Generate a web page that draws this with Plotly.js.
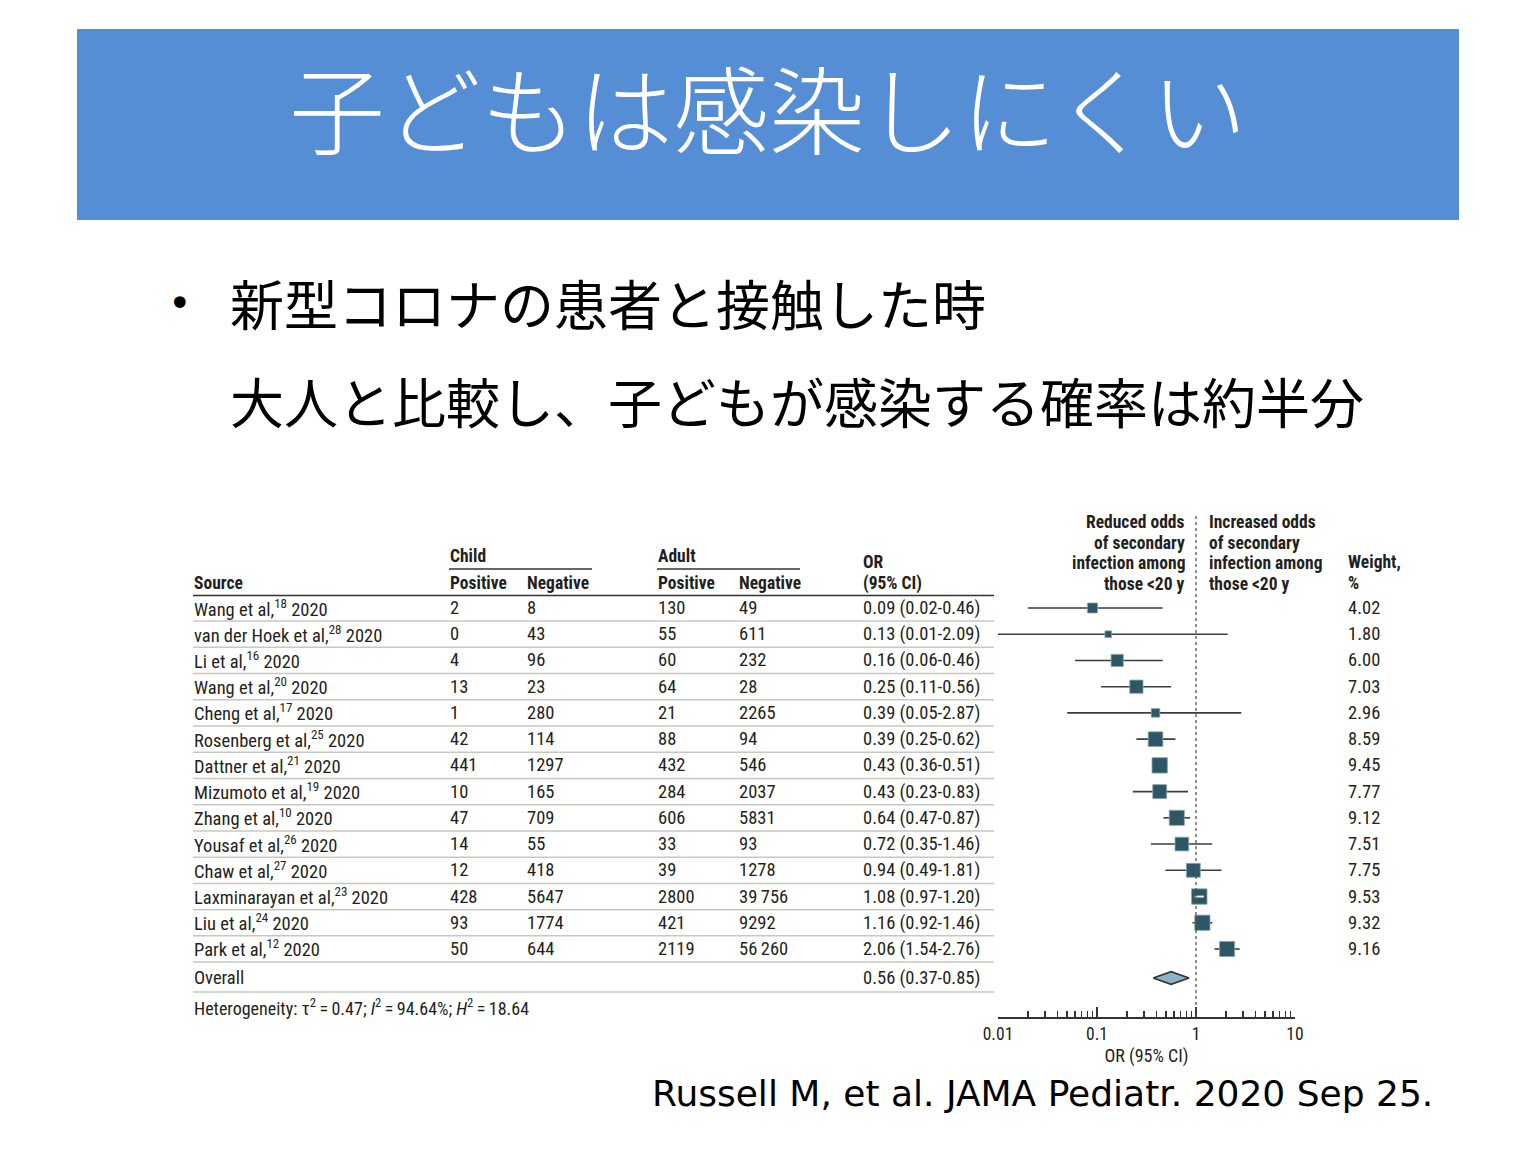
<!DOCTYPE html>
<html>
<head>
<meta charset="utf-8">
<script src="https://cdn.plot.ly/plotly-3.0.1.min.js"></script>
<style>html,body{margin:0;padding:0;background:#fff;}#chart{width:1536px;height:1152px;}</style>
</head>
<body>
<div id="chart"></div>
<script>
// ---- Data ----
const authors = ["Wang", "van der Hoek", "Li", "Wang", "Cheng", "Rosenberg", "Dattner", "Mizumoto", "Zhang", "Yousaf", "Chaw", "Laxminarayan", "Liu", "Park"];
const refs = [18, 28, 16, 20, 17, 25, 21, 19, 10, 26, 27, 23, 24, 12];
const years = [2020, 2020, 2020, 2020, 2020, 2020, 2020, 2020, 2020, 2020, 2020, 2020, 2020, 2020];
const childPos = [2, 0, 4, 13, 1, 42, 441, 10, 47, 14, 12, 428, 93, 50];
const childNeg = [8, 43, 96, 23, 280, 114, 1297, 165, 709, 55, 418, 5647, 1774, 644];
const adultPos = [130, 55, 60, 64, 21, 88, 432, 284, 606, 33, 39, 2800, 421, 2119];
const adultNeg = [49, 611, 232, 28, 2265, 94, 546, 2037, 5831, 93, 1278, 39756, 9292, 56260];
const oddsRatio = [0.09, 0.13, 0.16, 0.25, 0.39, 0.39, 0.43, 0.43, 0.64, 0.72, 0.94, 1.08, 1.16, 2.06];
const ciLow = [0.02, 0.01, 0.06, 0.11, 0.05, 0.25, 0.36, 0.23, 0.47, 0.35, 0.49, 0.97, 0.92, 1.54];
const ciHigh = [0.46, 2.09, 0.46, 0.56, 2.87, 0.62, 0.51, 0.83, 0.87, 1.46, 1.81, 1.20, 1.46, 2.76];
const weights = [4.02, 1.80, 6.00, 7.03, 2.96, 8.59, 9.45, 7.77, 9.12, 7.51, 7.75, 9.53, 9.32, 9.16];
const overallOR = 0.56, overallLow = 0.37, overallHigh = 0.85;
const heterogeneity = {tau2: 0.47, i2: 94.64, h2: 18.64};
const tickValues = [0.01, 0.1, 1, 10];
const tickLabels = ["0.01", "0.1", "1", "10"];
const minorTicks = [0.02,0.03,0.04,0.05,0.06,0.07,0.08,0.09,0.2,0.3,0.4,0.5,0.6,0.7,0.8,0.9,2,3,4,5,6,7,8,9];

// ---- Layout helpers ----
const W = 1536, H = 1152;
const px = x => x / W;
const py = y => 1 - y / H;
const ROW0 = 608, ROWH = 26.23;
const rowOf = y => (y - ROW0) / ROWH;
const overallRow = rowOf(978);
const AX_L = 998, AX_R = 1295, PX_PER_DECADE = (AX_R - AX_L) / 3;
const TFONT = "Liberation Sans Narrow, Roboto Condensed, DejaVu Sans Condensed, sans-serif";
const TCOL = "#231f20";
const REG = 18.5, BOLD = 17.5;
const fmt = n => n >= 10000 ? String(n).replace(/(\d+)(\d{3})$/, "$1\u2009$2") : String(n);
const boxSize = w => Math.sqrt(w) * 5;

const annotations = [];
const shapes = [];
function addText(text, x, y, opts = {}) {
  annotations.push({
    text, x: px(x), y: opts.yref === 'y' ? y : py(y), xref: 'paper', yref: opts.yref || 'paper',
    xanchor: opts.xanchor || 'left', yanchor: 'middle', showarrow: false, borderpad: 0,
    font: {family: TFONT, size: opts.size || REG, color: opts.color || TCOL, weight: opts.weight || 400}
  });
}
function hline(x0, x1, y, color, width, yref) {
  shapes.push({type: 'line', xref: 'paper', yref: yref || 'paper', x0: px(x0), x1: px(x1),
    y0: yref === 'y' ? y : py(y), y1: yref === 'y' ? y : py(y), line: {color, width}});
}

// Banner
shapes.push({type: 'rect', xref: 'paper', yref: 'paper', x0: px(77), x1: px(1459), y0: py(220), y1: py(29),
  fillcolor: '#558ed5', line: {width: 0}, layer: 'below'});
annotations.push({text: "子どもは感染しにくい", x: px(768), y: py(106), xref: 'paper', yref: 'paper',
  xanchor: 'center', yanchor: 'middle', showarrow: false,
  font: {family: "Noto Sans CJK JP, sans-serif", size: 96, color: '#ffffff', weight: 300}});

// Bullet text
annotations.push({text: "•", x: px(180), y: py(303), xref: 'paper', yref: 'paper', xanchor: 'center', yanchor: 'middle',
  showarrow: false, font: {family: "DejaVu Sans, sans-serif", size: 40, color: '#000'}});
annotations.push({text: "新型コロナの患者と接触した時", x: px(228), y: py(302), xref: 'paper', yref: 'paper',
  xanchor: 'left', yanchor: 'middle', showarrow: false, font: {family: "Noto Sans CJK JP, sans-serif", size: 54, color: '#000'}});
annotations.push({text: "大人と比較し、子どもが感染する確率は約半分", x: px(228), y: py(400), xref: 'paper', yref: 'paper',
  xanchor: 'left', yanchor: 'middle', showarrow: false, font: {family: "Noto Sans CJK JP, sans-serif", size: 54, color: '#000'}});

// Citation
annotations.push({text: "Russell M, et al. JAMA Pediatr. 2020 Sep 25.", x: px(1435), y: py(1093), xref: 'paper', yref: 'paper',
  xanchor: 'right', yanchor: 'middle', showarrow: false, font: {family: "DejaVu Sans, Verdana, sans-serif", size: 36, color: '#000'}});

// Table header
const B = {weight: 700, size: BOLD};
addText("Source", 193, 583, B);
addText("Child", 449, 556, B);
addText("Positive", 449, 583, B);
addText("Negative", 526, 583, B);
addText("Adult", 657, 556, B);
addText("Positive", 657, 583, B);
addText("Negative", 738, 583, B);
addText("OR", 862, 562, B);
addText("(95% CI)", 862, 583, B);
["Reduced odds", "of secondary", "infection among", "those <20 y"].forEach((t, k) =>
  addText(t, 1186, 522 + k * 20.5, {weight: 700, size: BOLD, xanchor: 'right'}));
["Increased odds", "of secondary", "infection among", "those <20 y"].forEach((t, k) =>
  addText(t, 1208, 522 + k * 20.5, B));
addText("Weight,", 1347, 562, B);
addText("%", 1347, 583, B);
hline(449, 592, 569, '#333', 1.5);
hline(657, 800, 569, '#333', 1.5);
hline(193, 994, 595.5, '#333', 1.6);

// Table rows
authors.forEach((a, i) => {
  const R = {yref: 'y'};
  addText(`${a} et al,<sup>${refs[i]}</sup> ${years[i]}`, 193, i, R);
  addText(fmt(childPos[i]), 449, i, R);
  addText(fmt(childNeg[i]), 526, i, R);
  addText(fmt(adultPos[i]), 657, i, R);
  addText(fmt(adultNeg[i]), 738, i, R);
  addText(`${oddsRatio[i].toFixed(2)} (${ciLow[i].toFixed(2)}-${ciHigh[i].toFixed(2)})`, 862, i, R);
  addText(weights[i].toFixed(2), 1347, i, R);
  hline(193, 994, i + 0.5, '#c8c8c2', 1.5, 'y');
});
addText("Overall", 193, overallRow, {yref: 'y'});
addText(`${overallOR.toFixed(2)} (${overallLow.toFixed(2)}-${overallHigh.toFixed(2)})`, 862, overallRow, {yref: 'y'});
hline(193, 994, rowOf(992), '#c8c8c2', 1.5, 'y');
addText(`Heterogeneity: τ<sup>2</sup>\u2009=\u2009${heterogeneity.tau2.toFixed(2)}; <i>I</i><sup>2</sup>\u2009=\u2009${heterogeneity.i2.toFixed(2)}%; <i>H</i><sup>2</sup>\u2009=\u2009${heterogeneity.h2.toFixed(2)}`,
  193, 1007, {size: 18});

// Null line
shapes.push({type: 'line', xref: 'x', yref: 'paper', x0: 1, x1: 1, y0: py(1017), y1: py(514),
  line: {color: '#555', width: 1.3, dash: 'dot'}});

// CI segments (built from the data arrays)
const ciX = [], ciY = [], innerX = [], innerY = [];
oddsRatio.forEach((_, i) => {
  ciX.push(ciLow[i], ciHigh[i], null); ciY.push(i, i, null);
  const spanPx = (Math.log10(ciHigh[i]) - Math.log10(ciLow[i])) * PX_PER_DECADE;
  if (spanPx < boxSize(weights[i]) - 2) { innerX.push(ciLow[i], ciHigh[i], null); innerY.push(i, i, null); }
});

const traces = [
  {
    type: 'scatter', mode: 'lines', x: ciX, y: ciY,
    line: {color: '#3d3d3d', width: 1.6}, hoverinfo: 'skip', showlegend: false
  },
  {
    type: 'scatter', mode: 'markers', x: oddsRatio, y: authors.map((_, i) => i),
    marker: {symbol: 'square', size: weights.map(boxSize), color: '#2d5764', opacity: 1,
      line: {color: '#8aa7b0', width: 0.8}},
    hoverinfo: 'x', showlegend: false
  },
  {
    type: 'scatter', mode: 'lines', x: innerX, y: innerY,
    line: {color: '#ffffff', width: 1.8}, hoverinfo: 'skip', showlegend: false
  },
  {
    type: 'scatter', mode: 'lines', fill: 'toself', fillcolor: '#8db4c6',
    x: [overallLow, overallOR, overallHigh, overallOR, overallLow],
    y: [overallRow, overallRow - 0.24, overallRow, overallRow + 0.24, overallRow],
    line: {color: '#333', width: 1.6}, hoverinfo: 'skip', showlegend: false
  }
];

const layout = {
  width: W, height: H, margin: {l: 0, r: 0, t: 0, b: 0},
  paper_bgcolor: '#fff', plot_bgcolor: 'rgba(0,0,0,0)',
  showlegend: false,
  xaxis: {
    type: 'log', range: [-2, 1], domain: [px(AX_L), px(AX_R)],
    showgrid: false, zeroline: false, showline: true, linecolor: '#333', linewidth: 1.5,
    ticks: 'inside', ticklen: 10, tickwidth: 1.5, tickcolor: '#333',
    tickmode: 'array', tickvals: tickValues, ticktext: tickLabels,
    tickfont: {family: TFONT, size: 17.5, color: TCOL},
    minor: {tickmode: 'array', tickvals: minorTicks, ticks: 'inside', ticklen: 6, tickwidth: 1.5, tickcolor: '#333', showgrid: false},
    title: {text: "OR (95% CI)", font: {family: TFONT, size: 18, color: TCOL}, standoff: 7},
    fixedrange: true
  },
  yaxis: {
    range: [rowOf(1017), rowOf(515)], domain: [py(1017), py(515)],
    visible: false, showgrid: false, zeroline: false, fixedrange: true
  },
  shapes, annotations
};

Plotly.newPlot('chart', traces, layout, {displayModeBar: false, staticPlot: true});
</script>
</body>
</html>
